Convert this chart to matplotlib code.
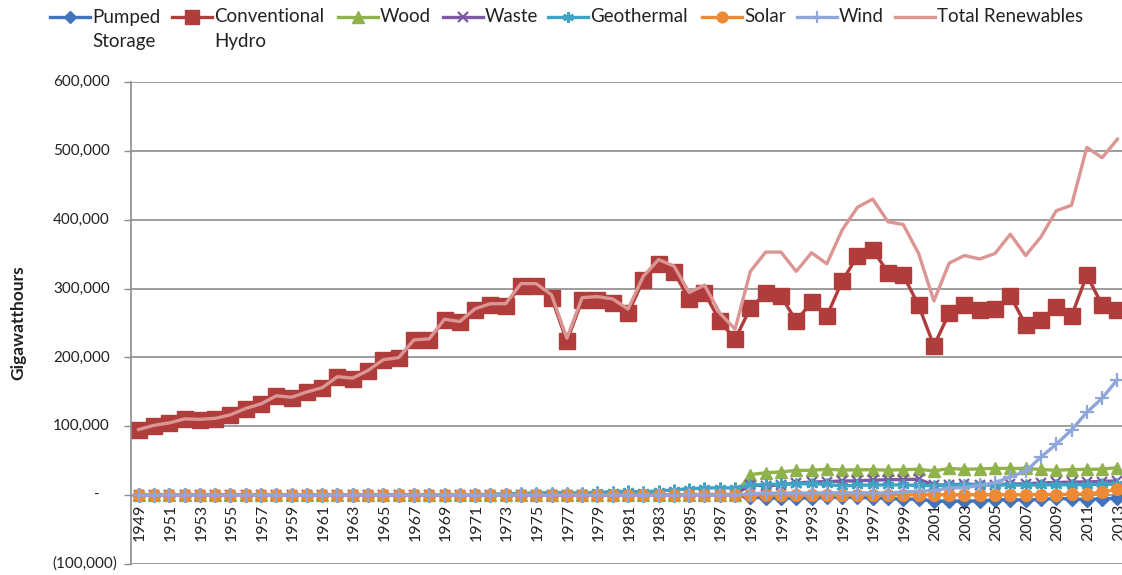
import matplotlib
matplotlib.use('Agg')
import matplotlib.pyplot as plt
from matplotlib.lines import Line2D

plt.rcParams['font.family'] = ['Lato', 'DejaVu Sans']

# Net generation, thousand gigawatthours, 1949-2013
years = list(range(1949, 2014))

pumped_storage = [0.0] * 40 + [
    -3.4, -3.5, -4.5, -4.2, -4.0, -3.4, -2.7, -3.1, -4.0, -4.5,
    -6.1, -5.5, -8.8, -8.7, -8.5, -8.5, -6.6, -6.6, -6.9, -6.3,
    -4.6, -5.5, -6.4, -5.0, -4.7]

conventional_hydro = [
    94.8, 100.9, 104.4, 110.2, 109.6, 111.0, 116.2, 125.4, 132.1, 143.7,
    141.7, 149.4, 155.5, 171.5, 169.1, 180.3, 196.0, 198.9, 224.8, 226.0,
    254.3, 251.0, 269.6, 275.9, 275.4, 304.2, 303.2, 286.6, 223.6, 283.2,
    283.7, 279.2, 263.8, 312.4, 335.3, 324.3, 284.3, 294.0, 252.9, 226.1,
    272.1, 292.9, 289.0, 253.1, 280.5, 260.1, 310.8, 347.2, 356.5, 323.3,
    319.5, 275.6, 216.9, 264.3, 275.8, 268.4, 270.3, 289.2, 247.5, 254.8,
    273.4, 260.2, 319.4, 276.2, 268.6]

wood = [
    0.4, 0.4, 0.4, 0.3, 0.3, 0.3, 0.3, 0.3, 0.2, 0.2,
    0.2, 0.1, 0.1, 0.1, 0.1, 0.1, 0.1, 0.1, 0.1, 0.1,
    0.1, 0.1, 0.1, 0.1, 0.1, 0.1, 0.0, 0.0, 0.1, 0.1,
    0.2, 0.3, 0.3, 0.3, 0.4, 0.5, 0.7, 0.7, 0.7, 0.9,
    29.8, 32.5, 33.7, 35.9, 36.1, 37.6, 36.5, 36.8, 36.9, 36.3,
    37.0, 37.6, 35.2, 38.7, 37.5, 38.1, 38.9, 38.8, 39.0, 37.3,
    36.1, 37.2, 37.4, 37.8, 40.0]

waste = [0.2] * 28 + [0.3, 0.3, 0.2, 0.2, 0.2, 0.3, 0.5, 0.6, 0.7, 0.8, 0.9, 0.9] + [
    15.0, 13.3, 15.1, 17.8, 18.9, 19.8, 20.4, 20.9, 21.7, 22.4,
    22.6, 23.1, 14.5, 15.0, 15.8, 15.4, 15.4, 16.1, 16.5, 17.7,
    18.4, 18.9, 19.2, 19.8, 20.8]

geothermal = [0.0] * 11 + [
    0.03, 0.03, 0.03, 0.4, 0.3, 0.2, 0.3, 0.3, 0.4, 0.7,
    0.5, 0.5, 1.5, 2.0, 2.5, 3.2, 3.6, 3.6, 3.0, 3.9,
    5.1, 5.7, 4.8, 6.1, 7.7, 9.3, 10.3, 10.8, 10.3,
    14.6, 15.4, 16.0, 16.1, 16.8, 15.5, 13.4, 14.3, 14.7, 14.8,
    14.8, 14.1, 13.7, 14.5, 14.4, 14.8, 14.7, 14.6, 14.6, 14.8,
    15.0, 15.2, 15.3, 15.6, 15.8]

solar = [0.0] * 35 + [0.005, 0.011, 0.015, 0.011, 0.01] + [
    0.3, 0.4, 0.5, 0.4, 0.5, 0.5, 0.5, 0.5, 0.5, 0.5,
    0.5, 0.5, 0.5, 0.6, 0.5, 0.6, 0.6, 0.5, 0.6, 0.9,
    0.9, 1.2, 1.8, 4.3, 9.0]

wind = [0.0] * 34 + [0.003, 0.006, 0.006, 0.004, 0.004, 0.0] + [
    2.1, 2.8, 2.9, 2.9, 3.0, 3.4, 3.2, 3.2, 3.3, 3.0,
    4.5, 5.6, 6.7, 10.4, 11.2, 14.1, 17.8, 26.6, 34.5, 55.4,
    73.9, 94.7, 120.2, 140.8, 167.8]

total_renewables = [
    95.3, 101.4, 104.9, 110.7, 110.1, 111.5, 116.7, 125.9, 132.6, 144.2,
    142.2, 149.9, 156.0, 172.0, 170.0, 181.1, 196.7, 199.7, 225.5, 227.0,
    255.5, 252.1, 270.7, 278.0, 278.0, 307.3, 307.1, 290.9, 227.9, 286.9,
    288.3, 285.0, 270.2, 317.9, 342.1, 332.7, 294.3, 305.0, 264.4, 241.0,
    325, 353, 353, 325, 352, 336, 385, 418, 430, 397,
    393, 351, 282, 337, 348, 343, 351, 379, 348, 375,
    413, 421, 505, 490, 517]

series_names = ['Pumped\nStorage', 'Conventional\nHydro', 'Wood', 'Waste',
                'Geothermal', 'Solar', 'Wind', 'Total Renewables']
series_values = [pumped_storage, conventional_hydro, wood, waste,
                 geothermal, solar, wind, total_renewables]

y_ticks = [-100, 0, 100, 200, 300, 400, 500, 600]
y_tick_labels = ['(100,000)', '-', '100,000', '200,000', '300,000',
                 '400,000', '500,000', '600,000']

# styling per series
colors = ['#4174BD', '#B03C3B', '#8FB24A', '#7B59A3', '#3FA3C4', '#EE8A35',
          '#8FA6D8', '#DB9593']
markers = ['D', 's', '^', 'x', (6, 2, 0), 'o', '+', None]
msizes = [7, 11, 9, 7.5, 8.5, 8.5, 9.5, 0]
thin = ('x', '+', (6, 2, 0))

W, H = 1122, 575
fig = plt.figure(figsize=(W / 100, H / 100), dpi=100)
ax = fig.add_axes([131 / W, 1 - 564 / H, (W - 131) / W, (564 - 82) / H])

x = list(range(len(years)))
for vals, c, m, ms in zip(series_values, colors, markers, msizes):
    ax.plot(x, vals, color=c, lw=2.4, marker=m, markersize=ms,
            markeredgewidth=1.6 if m in thin else 1,
            markeredgecolor=c, solid_joinstyle='round')

ax.set_xlim(-0.5, len(years) - 0.7)
ax.set_ylim(-100, 600)
ax.set_yticks(y_ticks)
ax.set_yticklabels([])
ax.set_xticks([])
ax.tick_params(axis='y', length=5, color='#8C8C8C', width=1)
ax.grid(axis='y', color='#8C8C8C', lw=1.2)
ax.set_axisbelow(True)
for side in ['top', 'right', 'bottom']:
    ax.spines[side].set_visible(False)
ax.spines['left'].set_color('#8C8C8C')
ax.spines['left'].set_linewidth(1.2)

# y tick labels, accounting style
for v, lab in zip(y_ticks, y_tick_labels):
    if lab == '-':
        ax.annotate(lab, (0, v), xycoords=('axes fraction', 'data'),
                    xytext=(-24.5, 0), textcoords='offset points',
                    ha='center', va='center', fontsize=11, color='#222222')
    else:
        off = -10.1 if lab.startswith('(') else -15.1
        ax.annotate(lab, (0, v), xycoords=('axes fraction', 'data'),
                    xytext=(off, 0), textcoords='offset points',
                    ha='right', va='center', fontsize=11, color='#222222')

# category labels next to the zero line
for i, yr in enumerate(years):
    if i % 2 == 0:
        ax.annotate(str(yr), (i, 0), xytext=(1, -6), textcoords='offset points',
                    rotation=90, ha='center', va='top', fontsize=11.5,
                    color='#222222', annotation_clip=False)

fig.text(18 / W, 1 - 323 / H, 'Gigawatthours', rotation=90, ha='center',
         va='center', fontsize=12.5, fontweight='bold', color='#222222')

# legend across the top
leg_x = [50, 172, 338, 443, 548, 702, 797, 895]
for name, c, m, ms, lx in zip(series_names, colors, markers, msizes, leg_x):
    y0 = 1 - 17 / H
    fig.add_artist(Line2D([lx / W, (lx + 40) / W], [y0, y0], color=c, lw=2.4))
    if m is not None:
        fig.add_artist(Line2D([(lx + 20) / W], [y0], color=c, marker=m,
                              markersize=ms * 0.9, markeredgecolor=c,
                              markeredgewidth=1.6 if m in thin else 1))
    parts = name.split('\n')
    for k, p in enumerate(parts):
        fig.text((lx + 42) / W, 1 - (17 + 25 * k) / H, p, ha='left',
                 va='center', fontsize=13.5, color='#222222')

fig.savefig('out.png', dpi=100)
